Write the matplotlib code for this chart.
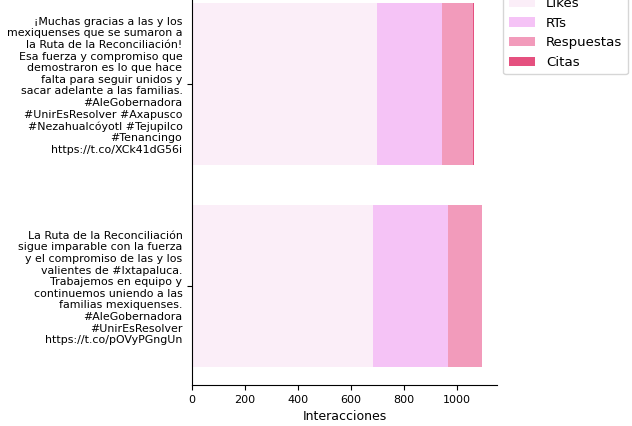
import matplotlib
matplotlib.use("Agg")
import matplotlib.pyplot as plt
import numpy as np

# tweets, top to bottom
tweets = [
    "¡Muchas gracias a las y los\nmexiquenses que se sumaron a\nla Ruta de la Reconciliación!\n"
    "Esa fuerza y compromiso que\ndemostraron es lo que hace\nfalta para seguir unidos y\n"
    "sacar adelante a las familias.\n#AleGobernadora\n#UnirEsResolver #Axapusco\n"
    "#Nezahualcóyotl #Tejupilco\n#Tenancingo\nhttps://t.co/XCk41dG56i",
    "La Ruta de la Reconciliación\nsigue imparable con la fuerza\ny el compromiso de las y los\n"
    "valientes de #Ixtapaluca.\nTrabajemos en equipo y\ncontinuemos uniendo a las\n"
    "familias mexiquenses.\n#AleGobernadora\n#UnirEsResolver\nhttps://t.co/pOVyPGngUn",
]
likes = [700, 685]
rts = [243, 281]
respuestas = [117, 128]
citas = [3, 2]

series = ["Likes", "RTs", "Respuestas", "Citas"]
colors = ["#fbeef8", "#f5c3f6", "#f29bbb", "#e5507f"]

fig = plt.figure(figsize=(6.32, 4.26), dpi=100)
ax = fig.add_axes([0.304, 0.096, 0.482, 0.939])

y = np.arange(len(tweets))[::-1]
left = np.zeros(len(tweets))
for name, vals, c in zip(series, [likes, rts, respuestas, citas], colors):
    ax.barh(y, vals, left=left, color=c, height=0.8, label=name)
    left += np.array(vals)

ax.set_yticks(y)
ax.set_yticklabels(tweets, fontsize=7.9)
ax.tick_params(axis="x", labelsize=8)
ax.set_xlabel("Interacciones", fontsize=9)
ax.spines["top"].set_visible(False)
ax.spines["right"].set_visible(False)
ax.legend(loc="upper left", bbox_to_anchor=(1.0, 1.0), fontsize=9.6)

fig.savefig("out.png", dpi=100)
